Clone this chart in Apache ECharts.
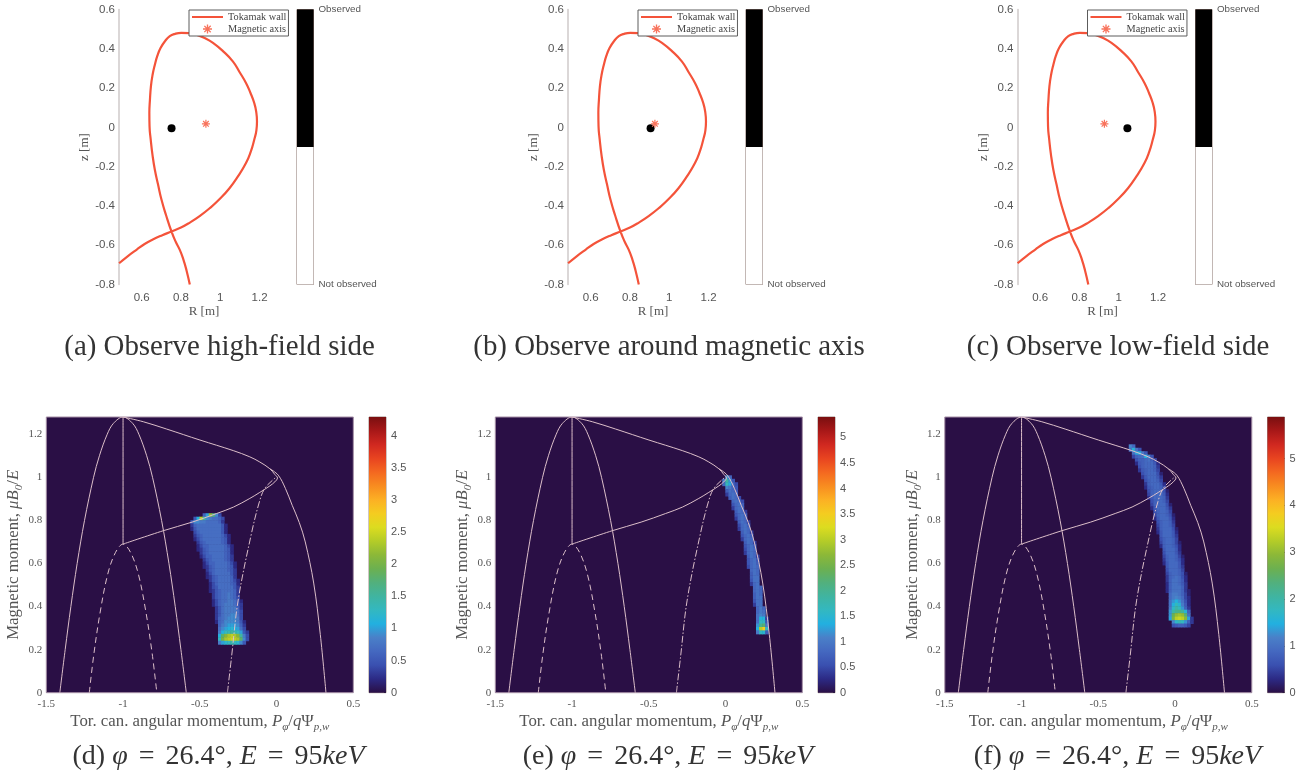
<!DOCTYPE html>
<html>
<head>
<meta charset="utf-8">
<title>Tokamak orbit maps</title>
<script src="https://cdn.jsdelivr.net/npm/echarts@6/dist/echarts.min.js"></script>
<style>
html, body { margin: 0; padding: 0; background: #fff; }
#chart { width: 1307px; height: 774px; }
</style>
</head>
<body>
<div id="chart"></div>
<script>
////////////////////
// data
////////////////////
// tokamak wall, R and z in metres
var wallR = [0.485,0.53,0.575,0.615,0.659,0.705,0.752,0.80,0.845,0.895,0.946,0.997,1.047,1.09,1.131,1.155,1.173,1.184,1.187,1.183,1.173,1.154,1.131,1.098,1.064,1.015,0.963,0.92,0.878,0.84,0.802,0.77,0.743,0.718,0.696,0.68,0.667,0.655,0.647,0.642,0.639,0.640,0.646,0.655,0.667,0.683,0.701,0.725,0.752,0.772,0.794,0.812,0.828,0.845];
var wallZ = [-0.692,-0.655,-0.622,-0.594,-0.570,-0.549,-0.530,-0.510,-0.485,-0.452,-0.412,-0.365,-0.310,-0.250,-0.182,-0.125,-0.063,-0.015,0.030,0.08,0.124,0.175,0.226,0.282,0.336,0.387,0.430,0.455,0.472,0.480,0.481,0.476,0.464,0.438,0.404,0.365,0.319,0.265,0.209,0.14,0.073,0.005,-0.063,-0.14,-0.216,-0.29,-0.369,-0.45,-0.531,-0.58,-0.624,-0.672,-0.727,-0.8];
var axisPoint = [0.927, 0.018];
var observedR = [0.752, 0.905, 1.044];
var observedZ = [-0.005, -0.005, -0.005];
var topXTicks = [0.6, 0.8, 1, 1.2];
var topYTicks = [-0.8, -0.6, -0.4, -0.2, 0, 0.2, 0.4, 0.6];
var obsFractions = [0.5, 0.5];
var obsLabels = ['Not observed', 'Observed'];

// orbit boundaries, P and mu
var leftArcP = [-1.412,-1.377,-1.34,-1.299,-1.251,-1.192,-1.154,-1.103,-1.063,-1,-0.937,-0.897,-0.846,-0.808,-0.749,-0.701,-0.66,-0.623,-0.588];
var leftArcMu = [0,0.2,0.4,0.6,0.8,1,1.1,1.2,1.25,1.28,1.25,1.2,1.1,1,0.8,0.6,0.4,0.2,0];
var upperP = [-1,-0.868,-0.716,-0.499,-0.282,-0.174,-0.109,-0.044,-0.011,0.006,-0.011,-0.044,-0.109,-0.174,-0.28,-0.39,-0.55,-0.738,-1];
var upperMu = [1.28,1.258,1.224,1.173,1.124,1.095,1.071,1.04,1.013,0.997,0.979,0.96,0.93,0.902,0.862,0.832,0.792,0.752,0.69];
var outerP = [-0.044,0.011,0.058,0.102,0.148,0.187,0.242,0.285,0.322];
var outerMu = [1.04,1.01,0.948,0.87,0.79,0.70,0.509,0.27,0];
var stemP = [-1, -1];
var stemMu = [0.69, 1.28];
var dashedP = [-1.22,-1.19,-1.15,-1.1,-1.05,-1,-0.95,-0.9,-0.85,-0.81,-0.78];
var dashedMu = [0,0.18,0.37,0.55,0.65,0.69,0.65,0.55,0.37,0.18,0];
var dashDotP = [-0.32,-0.293,-0.25,-0.163,-0.109,-0.076,-0.011,0.006];
var dashDotMu = [0,0.167,0.43,0.741,0.893,0.949,0.996,1];

// heat cells: [row, first column, values...]; column step 0.02 from -1.5, row step 0.016 from 0
var heatRowsD = [
[51,51,.6,1.0,2.2,1.7,.9,.4],
[50,48,.5,1.1,2.4,1.5,.9,.8,.7,.7,.6,.4],
[49,47,.5,.9,.9,.8,.8,.7,.7,.7,.7,.6,.3],
[48,47,.3,.6,.7,.7,.7,.7,.7,.7,.7,.7,.5,.2],
[47,47,.2,.5,.7,.7,.7,.7,.7,.7,.7,.7,.5,.2],
[46,48,.4,.6,.7,.7,.7,.7,.7,.7,.7,.5,.2],
[45,48,.3,.5,.6,.7,.7,.7,.7,.7,.7,.6,.4,.2],
[44,48,.2,.4,.6,.7,.7,.7,.7,.7,.7,.6,.5,.2],
[43,49,.3,.5,.6,.7,.7,.7,.7,.7,.6,.5,.2],
[42,49,.2,.4,.6,.6,.7,.7,.7,.7,.7,.6,.4,.2],
[41,49,.2,.3,.5,.6,.7,.7,.7,.7,.7,.6,.5,.2],
[40,50,.3,.5,.6,.7,.7,.7,.7,.7,.6,.5,.2],
[39,50,.2,.4,.6,.6,.7,.7,.7,.7,.6,.5,.3],
[38,51,.3,.5,.6,.7,.7,.7,.7,.6,.5,.3],
[37,51,.2,.4,.6,.6,.7,.7,.7,.7,.6,.4,.2],
[36,51,.2,.3,.5,.6,.7,.7,.7,.7,.6,.5,.2],
[35,52,.3,.5,.6,.7,.7,.7,.7,.6,.5,.3],
[34,52,.2,.4,.6,.7,.7,.7,.7,.7,.5,.3],
[33,52,.2,.3,.5,.6,.7,.7,.7,.7,.6,.3],
[32,53,.3,.5,.6,.7,.7,.7,.7,.6,.4,.2],
[31,53,.2,.4,.6,.7,.7,.7,.7,.6,.5,.2],
[30,53,.2,.4,.5,.7,.7,.7,.7,.7,.5,.3],
[29,53,.2,.3,.5,.6,.7,.7,.7,.7,.6,.3],
[28,54,.3,.5,.6,.7,.7,.8,.7,.6,.3],
[27,54,.3,.5,.6,.7,.7,.8,.7,.6,.4],
[26,54,.2,.4,.6,.7,.7,.8,.8,.7,.5,.2],
[25,54,.2,.4,.6,.7,.8,.8,.8,.7,.5,.3],
[24,55,.3,.5,.7,.8,.8,.8,.8,.6,.3],
[23,55,.3,.5,.7,.8,.8,.8,.8,.7,.4],
[22,55,.3,.5,.7,.8,.8,.9,.9,.7,.4],
[21,55,.3,.6,.7,.8,.9,.9,.9,.8,.4],
[20,55,.2,.6,.7,.9,.9,.9,.9,.8,.5,.2],
[19,56,.6,.8,.9,1.0,1.0,1.0,.9,.6,.3],
[18,56,.7,.9,1.0,1.1,1.2,1.1,1.0,.7,.4],
[17,56,.8,1.1,1.3,1.4,1.5,1.4,1.3,1.0,.5,.3],
[16,56,1.1,1.8,2.1,2.3,2.4,2.3,2.1,1.5,.8,.4],
[15,56,1.3,2.0,2.3,2.4,2.5,2.4,2.3,1.8,.9,.4],
[14,56,.8,1.0,1.2,1.3,1.4,1.3,1.2,.9,.5]
];
var heatRowsE = [
[62,75,1.2,.8],
[61,74,1.0,1.9,1.2,.6],
[60,74,.8,1.7,1.3,.8,.5],
[59,75,1.1,1.0,.8,.6],
[58,75,.7,.9,.8,.6],
[57,75,.4,.8,.9,.8],
[56,76,.7,.9,.8,.5],
[55,77,.8,.9,.8,.5],
[54,77,.6,.8,.9,.7],
[53,77,.4,.8,.9,.8],
[52,78,.7,.9,.8,.4],
[51,78,.6,.8,.9,.7],
[50,78,.4,.8,.9,.8],
[49,79,.7,.9,.8,.4],
[48,79,.5,.8,.9,.7],
[47,79,.4,.8,.9,.8],
[46,80,.7,.9,.8,.4],
[45,80,.6,.8,.9,.7],
[44,80,.4,.8,.9,.8],
[43,81,.7,.9,.8,.4],
[42,81,.6,.8,.9,.7],
[41,81,.5,.8,.9,.8],
[40,81,.4,.8,.9,.8],
[39,82,.7,.9,.8,.4],
[38,82,.6,.8,.9,.6],
[37,82,.6,.8,.9,.7],
[36,82,.5,.8,.9,.8],
[35,83,.8,.9,.8],
[34,83,.7,.9,.8],
[33,83,.7,.9,.9],
[32,83,.6,.9,.9],
[31,83,.4,.8,.9],
[30,84,.8,.9,.8],
[29,84,.8,.9,.8],
[28,84,.7,.9,.8],
[27,84,.7,.9,.9],
[26,84,.6,.9,.9],
[25,84,.4,.9,.9],
[24,85,.8,1.0,.8],
[23,85,.8,1.0,.9],
[22,85,.9,1.1,1.0],
[21,85,.9,1.4,1.4,.4],
[20,85,.9,1.6,1.6,.6],
[19,85,1.2,2.0,2.2,1.0],
[18,85,1.4,3.0,3.5,1.6],
[17,85,1.0,1.6,1.5,.7]
];
var heatRowsF = [
[71,60,1.2,.9],
[70,60,1.0,1.6,1.0,.6],
[69,61,1.0,1.4,1.5,1.1,.7],
[68,61,.5,.8,.9,1.0,1.5,1.2,.6],
[67,62,.6,.8,.8,.9,1.0,.8,.5],
[66,62,.3,.7,.8,.9,.9,.9,.7,.3],
[65,63,.6,.8,.9,.9,.9,.8,.4],
[64,63,.4,.7,.8,.9,.9,.8,.5],
[63,64,.6,.8,.9,.9,.9,.6,.2],
[62,64,.4,.7,.9,.9,.9,.7,.4],
[61,65,.6,.8,.9,.9,.8,.5],
[60,65,.4,.8,.9,.9,.9,.7,.3],
[59,65,.3,.7,.8,.9,.9,.8,.5],
[58,66,.6,.8,.9,.9,.9,.6,.2],
[57,66,.5,.8,.9,.9,.9,.7,.3],
[56,66,.3,.7,.9,.9,.9,.8,.4],
[55,67,.6,.8,.9,.9,.8,.5],
[54,67,.5,.8,.9,.9,.9,.6,.2],
[53,67,.3,.7,.9,.9,.9,.7,.4],
[52,68,.6,.8,.9,.9,.8,.5],
[51,68,.5,.8,.9,.9,.8,.6,.2],
[50,68,.3,.7,.9,.9,.9,.7,.3],
[49,69,.6,.8,.9,.9,.8,.4],
[48,69,.5,.8,.9,.9,.8,.5],
[47,69,.4,.8,.9,.9,.9,.6,.2],
[46,69,.3,.7,.9,.9,.9,.7,.3],
[45,70,.7,.9,.9,.9,.7,.4],
[44,70,.6,.8,.9,.9,.8,.5],
[43,70,.5,.8,.9,.9,.8,.5,.2],
[42,70,.3,.8,.9,.9,.8,.6,.3],
[41,71,.7,.9,.9,.9,.7,.3],
[40,71,.6,.9,.9,.9,.7,.4],
[39,71,.5,.8,.9,.9,.8,.5,.2],
[38,71,.4,.8,.9,.9,.8,.6,.3],
[37,71,.3,.7,.9,.9,.9,.7,.3],
[36,72,.7,.9,.9,.9,.7,.4],
[35,72,.6,.9,.9,.9,.8,.5],
[34,72,.5,.8,.9,.9,.8,.6,.2],
[33,72,.4,.8,.9,1.0,.9,.6,.3],
[32,72,.4,.8,1.0,1.0,.9,.7,.3],
[31,72,.3,.8,1.0,1.0,.9,.7,.4],
[30,72,.3,.8,1.0,1.0,1.0,.8,.4],
[29,72,.3,.8,1.0,1.0,1.0,.8,.4,.2],
[28,73,.9,1.1,1.1,1.0,.8,.5,.2],
[27,73,.9,1.1,1.2,1.1,.9,.5,.3],
[26,73,1.0,1.3,1.5,1.3,1.0,.6,.3],
[25,73,1.0,1.5,1.8,1.6,1.1,.7,.3],
[24,73,1.1,1.7,2.0,1.8,1.3,.8,.4],
[23,73,1.3,2.0,2.2,2.3,2.1,1.6,.8],
[22,73,1.3,2.6,3.0,3.1,3.0,2.4,1.0],
[21,73,1.4,2.8,3.3,3.4,3.3,2.9,1.4,.4],
[20,74,1.2,1.7,1.9,1.8,1.3,.8,.4],
[19,74,.6,.7,.8,.8,.7,.5]
];
var heatPanels = [heatRowsD, heatRowsE, heatRowsF];
var heatMax = [4.29, 5.4, 5.89];
var barTicks = [
    [0,0.5,1,1.5,2,2.5,3,3.5,4],
    [0,0.5,1,1.5,2,2.5,3,3.5,4,4.5,5],
    [0,1,2,3,4,5]
];
var bottomYTicks = [0,0.2,0.4,0.6,0.8,1,1.2];
var heatColors = ['#2a0f45','#2c2a85','#3a50b0','#4468c0','#4a80c8','#22b0e0','#33b8c0','#40b4a0','#52b07c','#6cb050','#8cb838','#b4cc28','#dcdc20','#f4cc20','#fcb024','#f88c20','#f46820','#e84420','#d02820','#a81818','#7a0f10'];

var topCaptions = ['(a) Observe high-field side', '(b) Observe around magnetic axis', '(c) Observe low-field side'];
var bottomCaptions = ['(d) ', '(e) ', '(f) '];

////////////////////
// layout
////////////////////
var panelDx = [0, 449, 898.5];
var topCaptionX = [219.5, 669, 1118];
var bottomCaptionX = [218.5, 668, 1117.5];
var serif = '"Liberation Serif", serif';
var sans = '"Liberation Sans", sans-serif';
var textGray = '#555';
var curveColor = '#dcbfc9';
var wallColor = '#f4533a';
var starColor = '#f8735c';
var starPath = 'path://M8.5 0h3v20h-3z M0 8.5h20v3h-20z M2 4.1l2.1-2.1 14 14-2.1 2.1z M4.1 18l-2.1-2.1 14-14 2.1 2.1z';

function pairs(xs, ys){
    var out = [];
    for(var i=0; i<xs.length; i++){
        out.push([xs[i], ys[i]]);
    }
    return out;
}
function heat_cells(rows){
    var out = [];
    rows.forEach(function(row){
        for(var k=2; k<row.length; k++){
            out.push([row[1] + k - 2, row[0], row[k]]);
        }
    });
    return out;
}
function gradient(){
    var stops = heatColors.map(function(c, i){
        return {offset: i / (heatColors.length - 1), color: c};
    });
    return new echarts.graphic.LinearGradient(0, 1, 0, 0, stops);
}

var heatColCats = [], heatRowCats = [];
for(var c=0; c<100; c++) heatColCats.push(c);
for(var r=0; r<80; r++) heatRowCats.push(r);

var grids = [], xAxes = [], yAxes = [], seriesList = [], titles = [], legends = [], visualMaps = [];

function add_grid(g, x, y){
    g.outerBoundsMode = 'none';
    grids.push(g);
    x.gridIndex = grids.length - 1;
    y.gridIndex = grids.length - 1;
    xAxes.push(x);
    yAxes.push(y);
    return grids.length - 1;
}

////////////////////
// top row
////////////////////
topCaptions.forEach(function(caption, p){
    var dx = panelDx[p];
    var main = add_grid(
        {left: 119 + dx, top: 9.5, width: 170, height: 275},
        {
            type: 'value', min: 0.4845, max: 1.35,
            axisLine: {show: false}, axisTick: {show: false}, splitLine: {show: false},
            axisLabel: {customValues: topXTicks, color: textGray, fontFamily: sans, fontSize: 11.5, margin: 7},
            name: 'R [m]', nameLocation: 'middle', nameGap: 21,
            nameTextStyle: {color: textGray, fontFamily: serif, fontSize: 13}
        },
        {
            type: 'value', min: -0.8, max: 0.6,
            axisLine: {show: true, lineStyle: {color: '#cfcaca', width: 1.5}},
            axisTick: {show: false}, splitLine: {show: false},
            axisLabel: {customValues: topYTicks, color: textGray, fontFamily: sans, fontSize: 11.5, margin: 4},
            name: 'z [m]', nameLocation: 'middle', nameGap: 24,
            nameTextStyle: {color: textGray, fontFamily: serif, fontSize: 13}
        }
    );
    seriesList.push({
        name: 'Tokamak wall', type: 'line', xAxisIndex: main, yAxisIndex: main,
        data: pairs(wallR, wallZ), smooth: 0.5, symbol: 'none', clip: true,
        lineStyle: {color: wallColor, width: 2.2}, itemStyle: {color: wallColor}
    });
    seriesList.push({
        name: 'Magnetic axis', type: 'scatter', xAxisIndex: main, yAxisIndex: main,
        data: [axisPoint], symbol: starPath, symbolSize: 8, itemStyle: {color: starColor, opacity: 1}, z: 4
    });
    seriesList.push({
        name: 'Detector view', type: 'scatter', xAxisIndex: main, yAxisIndex: main,
        data: [[observedR[p], observedZ[p]]], symbol: 'circle', symbolSize: 8, itemStyle: {color: '#000', opacity: 1}, z: 3
    });
    legends.push({
        left: 189 + dx, top: 10, orient: 'vertical', selectedMode: false,
        data: [
            {name: 'Tokamak wall', itemStyle: {color: 'transparent', borderWidth: 0}},
            'Magnetic axis'
        ],
        itemWidth: 31, itemHeight: 9, itemGap: 2, padding: [2, 2, 2, 2],
        backgroundColor: '#fff', borderColor: '#5c5c5c', borderWidth: 1,
        textStyle: {color: '#444', fontFamily: serif, fontSize: 10.3},
        z: 10
    });
    var bar = add_grid(
        {left: 297 + dx, top: 9.5, width: 16.5, height: 275, show: true, backgroundColor: '#fff', borderColor: '#86706a', borderWidth: 1},
        {type: 'category', data: ['view'], show: false},
        {
            type: 'value', min: 0, max: 1, position: 'right',
            axisLine: {show: false}, axisTick: {show: false}, splitLine: {show: false},
            axisLabel: {
                customValues: [0, 1], color: textGray, fontFamily: sans, fontSize: 9.8, margin: 5,
                formatter: function(v){ return obsLabels[v]; }
            }
        }
    );
    seriesList.push({
        type: 'bar', xAxisIndex: bar, yAxisIndex: bar, stack: 'view' + p, barWidth: '100%', silent: true,
        data: [obsFractions[0]], itemStyle: {color: '#fff'}
    });
    seriesList.push({
        type: 'bar', xAxisIndex: bar, yAxisIndex: bar, stack: 'view' + p, barWidth: '100%', silent: true,
        data: [obsFractions[1]], itemStyle: {color: '#000'}
    });
    titles.push({
        text: caption, left: topCaptionX[p], top: 333, textAlign: 'center', padding: 0,
        textStyle: {color: '#333', fontFamily: serif, fontSize: 28.9, fontWeight: 'normal'}
    });
});

////////////////////
// bottom row
////////////////////
var mathRich = {
    i: {fontStyle: 'italic', fontFamily: serif, fontSize: 16.8, color: textGray},
    s: {fontStyle: 'italic', fontFamily: serif, fontSize: 11, color: textGray, verticalAlign: 'bottom', lineHeight: 22},
    r: {fontFamily: serif, fontSize: 16.8, color: textGray}
};

heatPanels.forEach(function(rows, p){
    var dx = panelDx[p];
    var box = {left: 46.3 + dx, top: 417, width: 307, height: 275.7};
    var main = add_grid(
        {left: box.left, top: box.top, width: box.width, height: box.height, show: true, backgroundColor: heatColors[0], borderColor: '#a58fa6', borderWidth: 1},
        {
            type: 'value', min: -1.5, max: 0.5, interval: 0.5,
            axisLine: {show: false}, axisTick: {show: false}, splitLine: {show: false},
            axisLabel: {color: textGray, fontFamily: serif, fontSize: 11, margin: 6},
            name: 'Tor. can. angular momentum, {i|P}{s|φ}{r|/}{i|q}{r|Ψ}{s|p,w}', nameLocation: 'middle', nameGap: 18,
            nameTextStyle: {color: textGray, fontFamily: serif, fontSize: 16.8, rich: mathRich}
        },
        {
            type: 'value', min: 0, max: 1.28,
            axisLine: {show: false}, axisTick: {show: false}, splitLine: {show: false},
            axisLabel: {customValues: bottomYTicks, color: textGray, fontFamily: serif, fontSize: 11, margin: 4},
            name: 'Magnetic moment, {i|μB}{s|0}{r|/}{i|E}', nameLocation: 'middle', nameGap: 20,
            nameTextStyle: {color: textGray, fontFamily: serif, fontSize: 16.8, rich: mathRich}
        }
    );
    var heat = add_grid(
        {left: box.left, top: box.top, width: box.width, height: box.height},
        {type: 'category', data: heatColCats, show: false},
        {type: 'category', data: heatRowCats, show: false}
    );
    seriesList.push({
        type: 'heatmap', xAxisIndex: heat, yAxisIndex: heat, data: heat_cells(rows), silent: true, z: 1,
        progressive: 0, itemStyle: {borderWidth: 0}
    });
    visualMaps.push({
        show: false, seriesIndex: seriesList.length - 1, dimension: 2, min: 0, max: heatMax[p],
        inRange: {color: heatColors}
    });
    var curves = [
        {x: leftArcP, y: leftArcMu},
        {x: upperP, y: upperMu},
        {x: outerP, y: outerMu},
        {x: stemP, y: stemMu},
        {x: dashedP, y: dashedMu, dash: [6, 4]},
        {x: dashDotP, y: dashDotMu, dash: [7, 2, 1.5, 2]}
    ];
    curves.forEach(function(cv){
        seriesList.push({
            type: 'line', xAxisIndex: main, yAxisIndex: main, data: pairs(cv.x, cv.y),
            smooth: 0.35, symbol: 'none', silent: true, z: 3,
            lineStyle: {color: curveColor, width: 1, type: cv.dash || 'solid'}
        });
    });
    var bar = add_grid(
        {left: 369 + dx, top: 417, width: 17, height: 275.7, show: true, borderColor: '#86706a', borderWidth: 0.8},
        {type: 'category', data: ['scale'], show: false},
        {
            type: 'value', min: 0, max: heatMax[p], position: 'right',
            axisLine: {show: false}, splitLine: {show: false},
            axisTick: {show: true, inside: true, customValues: barTicks[p], length: 2, lineStyle: {color: '#333'}},
            axisLabel: {customValues: barTicks[p], color: textGray, fontFamily: sans, fontSize: 11, margin: 5}
        }
    );
    seriesList.push({
        type: 'bar', xAxisIndex: bar, yAxisIndex: bar, barWidth: '100%', silent: true,
        data: [heatMax[p]], itemStyle: {color: gradient()}
    });
    titles.push({
        text: '{t|' + bottomCaptions[p] + '}{m|φ}{e|=}{t|26.4°, }{m|E}{e|=}{t|95}{m|keV}',
        left: bottomCaptionX[p], top: 743, textAlign: 'center', padding: 0,
        textStyle: {
            fontSize: 28, fontWeight: 'normal',
            rich: {
                t: {fontFamily: serif, fontSize: 28, color: '#333'},
                m: {fontFamily: serif, fontSize: 28, fontStyle: 'italic', color: '#333'},
                e: {fontFamily: serif, fontSize: 28, color: '#333', padding: [0, 11, 0, 11]}
            }
        }
    });
});

var mychart = echarts.init(document.getElementById('chart'), null, {renderer: 'canvas'});
mychart.setOption({
    animation: false,
    backgroundColor: '#fff',
    title: titles,
    legend: legends,
    grid: grids,
    xAxis: xAxes,
    yAxis: yAxes,
    visualMap: visualMaps,
    series: seriesList
});
</script>
</body>
</html>
